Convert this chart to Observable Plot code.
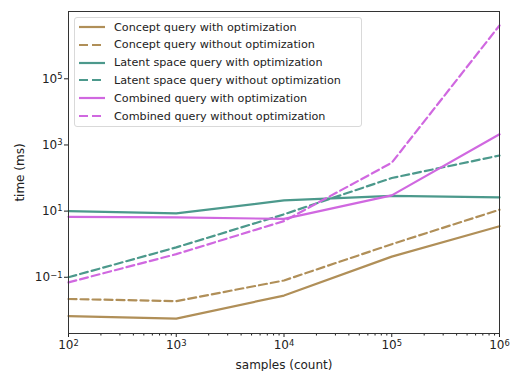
<!DOCTYPE html>
<html><head><meta charset="utf-8">
<script src="https://cdn.jsdelivr.net/npm/d3@7"></script>
<script src="https://cdn.jsdelivr.net/npm/@observablehq/plot@0.6"></script>
<style>
body{margin:0;background:#fff;font-family:"DejaVu Sans",sans-serif}
#wrap{position:relative;width:517px;height:371px}
#legend{position:absolute;z-index:2;left:74px;top:17px;width:286px;height:108px;border:1px solid #d9d9d9;border-radius:3px;background:rgba(255,255,255,0.85);font-size:11.2px;color:#222}
.item{position:absolute;left:4px;height:18px;display:flex;align-items:center;white-space:nowrap}
.item svg{margin-right:9px}
</style></head><body><div id="wrap"><div id="legend"></div></div>
<script>
const samples = [1e2, 1e3, 1e4, 1e5, 1e6];
const seriesNames = [
  "Concept query with optimization",
  "Concept query without optimization",
  "Latent space query with optimization",
  "Latent space query without optimization",
  "Combined query with optimization",
  "Combined query without optimization"
];
const conceptOpt    = [0.0067, 0.0056, 0.028, 0.42, 3.5];
const conceptNoOpt  = [0.022, 0.019, 0.08, 1.0, 11];
const latentOpt     = [10, 8.5, 21, 29, 26];
const latentNoOpt   = [0.1, 0.8, 8, 100, 480];
const combinedOpt   = [6.7, 6.5, 5.8, 30, 2100];
const combinedNoOpt = [0.07, 0.5, 5, 290, 4.1e6];
const xTickValues = [1e2, 1e3, 1e4, 1e5, 1e6];
const yTickValues = [1e-1, 1e1, 1e3, 1e5];

const seriesValues = [conceptOpt, conceptNoOpt, latentOpt, latentNoOpt, combinedOpt, combinedNoOpt];
const colors = ["#b08f58", "#b08f58", "#4c998c", "#4c998c", "#d068e0", "#d068e0"];
const dashed = [false, true, false, true, false, true];

const powFmt = d => "10^" + Math.round(Math.log10(d));
const minorTicks = [];
for (let k = 2; k < 6; k++) for (let m = 2; m < 10; m++) minorTicks.push(m * 10 ** k);

const lineMarks = seriesValues.map((vals, i) =>
  Plot.line(samples.map((s, j) => ({x: s, y: vals[j]})), {
    x: "x", y: "y", stroke: colors[i], strokeWidth: 2.2,
    strokeDasharray: dashed[i] ? "8,4" : null
  })
);

const chart = Plot.plot({
  width: 517, height: 371,
  marginLeft: 68, marginRight: 18, marginTop: 11, marginBottom: 38,
  style: {fontSize: "12px", fontFamily: "DejaVu Sans, sans-serif", color: "#222", background: "#fff"},
  x: {type: "log", domain: [1e2, 1e6]},
  y: {type: "log", domain: [10 ** -2.7, 10 ** 7.035]},
  marks: [
    Plot.axisX({ticks: minorTicks, tickSize: 2.5, tickFormat: () => "", label: null}),
    Plot.axisX({ticks: xTickValues, tickSize: 4, tickPadding: 3, tickFormat: powFmt, label: "samples (count)", labelAnchor: "center", labelOffset: 35, labelArrow: "none"}),
    Plot.axisY({ticks: yTickValues, tickSize: 4, tickPadding: 2, tickFormat: powFmt, label: "time (ms)", labelAnchor: "center", labelOffset: 53, labelArrow: "none"}),
    ...lineMarks,
    Plot.frame({stroke: "#333", strokeWidth: 1})
  ]
});
chart.querySelectorAll("text").forEach(t => {
  const m = t.textContent.match(/^10\^(-?\d+)$/);
  if (!m) return;
  t.textContent = "10";
  const ts = document.createElementNS("http://www.w3.org/2000/svg", "tspan");
  ts.setAttribute("dy", "-0.42em");
  ts.setAttribute("font-size", "0.7em");
  ts.textContent = m[1].replace("-", "\u2212");
  t.appendChild(ts);
});
const wrap = document.getElementById("wrap");
wrap.insertBefore(chart, wrap.firstChild);

const legend = document.getElementById("legend");
seriesNames.forEach((name, i) => {
  const item = document.createElement("div");
  item.className = "item";
  item.style.top = (i * 17.8) + "px";
  item.innerHTML = `<svg width="26" height="6"><line x1="0" y1="3" x2="26" y2="3" stroke="${colors[i]}" stroke-width="2.2" ${dashed[i] ? 'stroke-dasharray="9,4"' : ""}/></svg><span>${name}</span>`;
  legend.appendChild(item);
});
</script>
</body></html>
